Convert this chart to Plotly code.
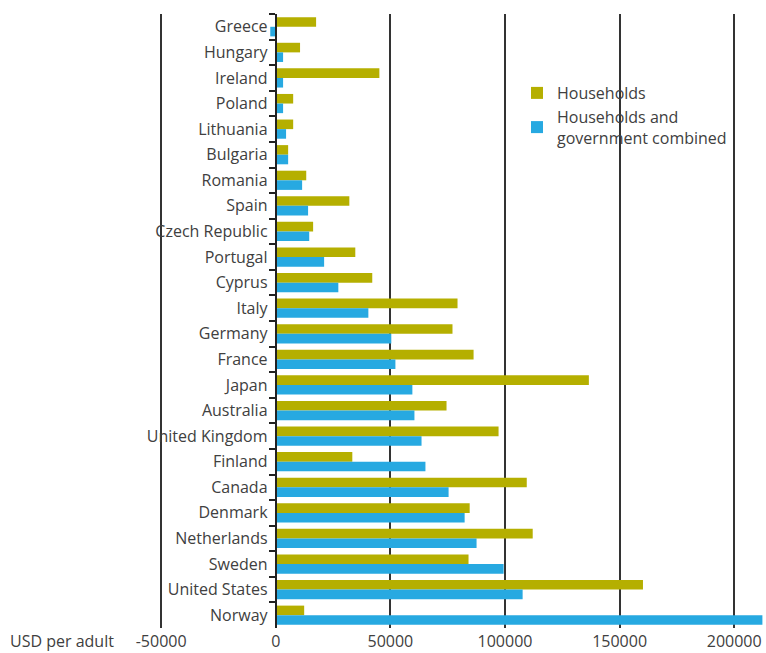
import plotly.graph_objects as go

countries = ["Greece", "Hungary", "Ireland", "Poland", "Lithuania", "Bulgaria", "Romania",
             "Spain", "Czech Republic", "Portugal", "Cyprus", "Italy", "Germany", "France",
             "Japan", "Australia", "United Kingdom", "Finland", "Canada", "Denmark",
             "Netherlands", "Sweden", "United States", "Norway"]
households = [17600, 10600, 45200, 7600, 7600, 5400, 13300, 32100, 16300, 34700, 42100,
              79300, 77100, 86300, 136600, 74500, 97200, 33400, 109500, 84600, 112100,
              84100, 160200, 12400]
combined = [-2400, 3200, 3200, 3200, 4500, 5400, 11500, 14100, 14600, 21100, 27300,
            40400, 50400, 52200, 59600, 60500, 63600, 65300, 75400, 82400, 87600,
            99400, 107700, 212300]
x_ticks = [-50000, 0, 50000, 100000, 150000, 200000]
x_tick_labels = ["-50000", "0", "50000", "100000", "150000", "200000"]

FONT = "Open Sans"
TXT = "#404040"

fig = go.Figure()
fig.add_trace(go.Bar(y=countries, x=households, orientation="h", name="Households",
                     marker=dict(color="#B5AF00", line=dict(width=0))))
fig.add_trace(go.Bar(y=countries, x=combined, orientation="h",
                     name="Households and<br>government combined",
                     marker=dict(color="#27A9E1", line=dict(width=0))))

xmin, xmax = -50500, 213000
fig.update_layout(
    width=766, height=653,
    margin=dict(l=160, r=2, t=14, b=25, autoexpand=False),
    paper_bgcolor="white", plot_bgcolor="white",
    barmode="group", bargap=0.25, bargroupgap=0,
    font=dict(family=FONT, size=16, color=TXT),
    xaxis=dict(range=[xmin, xmax], tickvals=x_ticks, ticktext=x_tick_labels,
               showgrid=True, gridcolor="#333333", gridwidth=1.5, automargin=False,
               zeroline=False, showline=False, ticks="", ticklabelstandoff=2,
               tickfont=dict(family=FONT, size=16, color=TXT)),
    yaxis=dict(autorange="reversed", anchor="free", position=(0 - xmin) / (xmax - xmin),
               showline=True, linecolor="#222222", linewidth=2, automargin=False,
               ticks="outside", tickson="boundaries", ticklen=6, tickcolor="#222222",
               tickwidth=1.5, showgrid=False, ticklabelstandoff=4,
               tickfont=dict(family=FONT, size=16, color=TXT)),
    legend=dict(x=(517 - 160) / 604, y=1 - (76 - 14) / 614, xanchor="left", yanchor="top",
                bgcolor="rgba(0,0,0,0)", font=dict(family=FONT, size=16, color=TXT),
                traceorder="normal"),
    annotations=[dict(text="USD per adult", xref="paper", yref="paper",
                      x=(8 - 160) / 604, y=-(641 - 628) / 614, xanchor="left",
                      yanchor="middle", showarrow=False,
                      font=dict(family=FONT, size=16, color=TXT))],
)

fig.write_html("out.html", config={"displayModeBar": False},
               post_script="document.body.style.margin='0px';document.body.style.padding='0px';")
